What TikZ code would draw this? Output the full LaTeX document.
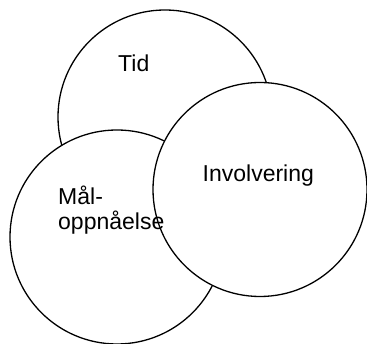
\documentclass[tikz,border=0pt]{standalone}
\usepackage{fontspec}
\setmainfont{Liberation Sans}
\usetikzlibrary{positioning}

\begin{document}
\begin{tikzpicture}[x=1pt,y=-1pt,
  circ/.style={draw,circle,fill=white,line width=1.3pt,minimum size=214pt,inner sep=0pt},
  lbl/.style={inner sep=0pt,anchor=base west,align=left,font=\fontsize{23}{25}\selectfont}]
\useasboundingbox (0,0) rectangle (367,344);
\node[circ] (tid) at (165,117) {};
\node[circ] (mal) at (117,237) {};
\node[circ] (inv) at (260,189.5) {};
\node[lbl] (tidtxt) at (118,71.5) {Tid};
\node[lbl] (invtxt) at (202.5,181.5) {Involvering};
\node[lbl] (maltxt) at (58,230) {Mål-\\oppnåelse};
\end{tikzpicture}
\end{document}
